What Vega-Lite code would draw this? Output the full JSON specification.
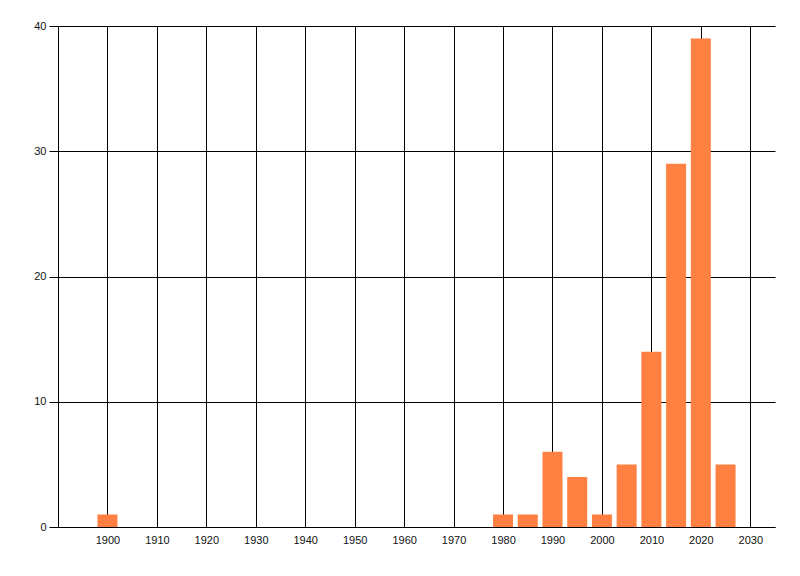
{
  "$schema": "https://vega.github.io/schema/vega-lite/v6.json",
  "autosize": "none",
  "width": 717,
  "height": 501,
  "padding": {"left": 58, "top": 26, "right": 25, "bottom": 49},
  "background": "white",
  "view": {"stroke": null},
  "data": {
    "values": [
      {"year": 1900, "count": 1},
      {"year": 1980, "count": 1},
      {"year": 1985, "count": 1},
      {"year": 1990, "count": 6},
      {"year": 1995, "count": 4},
      {"year": 2000, "count": 1},
      {"year": 2005, "count": 5},
      {"year": 2010, "count": 14},
      {"year": 2015, "count": 29},
      {"year": 2020, "count": 39},
      {"year": 2025, "count": 5}
    ]
  },
  "mark": {"type": "bar", "width": 20, "color": "#ff8040"},
  "encoding": {
    "x": {
      "field": "year",
      "type": "quantitative",
      "scale": {"domain": [1890, 2035], "nice": false, "zero": false, "padding": 0},
      "axis": {
        "title": null,
        "values": [1900, 1910, 1920, 1930, 1940, 1950, 1960, 1970, 1980, 1990, 2000, 2010, 2020, 2030],
        "format": "d",
        "grid": true,
        "gridColor": "black",
        "gridOpacity": 1,
        "ticks": false,
        "domainColor": "black",
        "labelFont": "Liberation Sans",
        "labelFontSize": 11,
        "labelColor": "#111",
        "labelPadding": 7,
        "labelFlush": false
      }
    },
    "y": {
      "field": "count",
      "type": "quantitative",
      "scale": {"domain": [0, 40], "nice": false},
      "axis": {
        "title": null,
        "values": [0, 10, 20, 30, 40],
        "grid": true,
        "gridColor": "black",
        "gridOpacity": 1,
        "tickColor": "black",
        "tickSize": 9,
        "domainColor": "black",
        "labelFont": "Liberation Sans",
        "labelFontSize": 11,
        "labelColor": "#111",
        "labelPadding": 3
      }
    }
  }
}
